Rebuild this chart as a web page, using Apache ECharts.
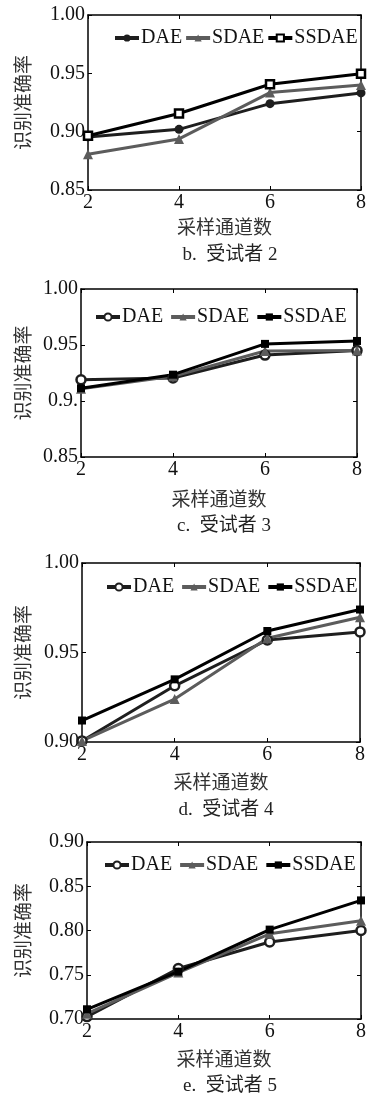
<!DOCTYPE html>
<html><head><meta charset="utf-8">
<script src="https://cdn.jsdelivr.net/npm/echarts@6/dist/echarts.min.js"></script>
<style>html,body{margin:0;padding:0;background:#fff}#c{width:369px;height:1098px}</style>
</head><body><div id="c"></div>
<script>
const channels = [2, 4, 6, 8];
const seriesNames = ['DAE', 'SDAE', 'SSDAE'];
const captions = ['b.  受试者 2', 'c.  受试者 3', 'd.  受试者 4', 'e.  受试者 5'];
const xTitle = '采样通道数';
const yTitle = '识别准确率';

// subject 2
const dae2 = [0.8955, 0.9020, 0.9240, 0.9332];
const sdae2 = [0.8807, 0.8938, 0.9335, 0.9400];
const ssdae2 = [0.8965, 0.9156, 0.9406, 0.9497];
// subject 3
const dae3 = [0.9190, 0.9205, 0.9410, 0.9450];
const sdae3 = [0.9110, 0.9220, 0.9446, 0.9450];
const ssdae3 = [0.9114, 0.9235, 0.9510, 0.9536];
// subject 4
const dae4 = [0.9006, 0.9314, 0.9570, 0.9615];
const sdae4 = [0.9006, 0.9240, 0.9580, 0.9697];
const ssdae4 = [0.9120, 0.9350, 0.9620, 0.9740];
// subject 5
const dae5 = [0.7027, 0.7570, 0.7870, 0.8000];
const sdae5 = [0.7060, 0.7525, 0.7963, 0.8110];
const ssdae5 = [0.7110, 0.7535, 0.8010, 0.8340];

const yTicks2 = ['0.85', '0.90', '0.95', '1.00'];
const yTicks3 = ['0.85', '0.9.', '0.95', '1.00'];
const yTicks4 = ['0.90', '0.95', '1.00'];
const yTicks5 = ['0.70', '0.75', '0.80', '0.85', '0.90'];

const panels = [
  {data: [dae2, sdae2, ssdae2], ticks: yTicks2, min: 0.85, max: 1.00, grid: {left: 88, top: 15, width: 274, height: 175}, legend: {left: 108, top: 23}, gap: 2, filledCircle: true, hollowSquare: true, ynameGap: 56, xnameGap: 27, cap: 252},
  {data: [dae3, sdae3, ssdae3], ticks: yTicks3, min: 0.85, max: 1.00, grid: {left: 81, top: 289, width: 276, height: 168}, legend: {left: 89, top: 302}, gap: 6, filledCircle: false, hollowSquare: false, ynameGap: 49, xnameGap: 32, cap: 523},
  {data: [dae4, sdae4, ssdae4], ticks: yTicks4, min: 0.90, max: 1.00, grid: {left: 82, top: 563, width: 278, height: 179}, legend: {left: 100, top: 572}, gap: 6, filledCircle: false, hollowSquare: false, ynameGap: 50, xnameGap: 30, cap: 807},
  {data: [dae5, sdae5, ssdae5], ticks: yTicks5, min: 0.70, max: 0.90, grid: {left: 87, top: 842, width: 276, height: 177}, legend: {left: 98, top: 850}, gap: 6, filledCircle: false, hollowSquare: false, ynameGap: 55, xnameGap: 30, cap: 1083}
];

const serif = "'Liberation Serif', 'Times New Roman', 'Noto Sans CJK SC', serif";
const cjk = "'Noto Sans CJK SC', sans-serif";
const axisLine = {show: true, lineStyle: {color: '#000', width: 1.5}};
const tick = {show: true, inside: true, length: 4, lineStyle: {color: '#000', width: 1}};
const colors = ['#1e1e1e', '#5c5c5c', '#000000'];

const option = {
  animation: false,
  backgroundColor: '#fff',
  grid: [], xAxis: [], yAxis: [], series: [], legend: [], title: []
};

panels.forEach((p, i) => {
  option.grid.push(Object.assign({containLabel: false}, p.grid));
  const ctr = p.grid.left + p.grid.width / 2;
  option.xAxis.push({
    type: 'value', gridIndex: i, min: 2, max: 8, interval: 2, position: 'bottom',
    axisLine, axisTick: tick, splitLine: {show: false},
    axisLabel: {fontFamily: serif, fontSize: 20, color: '#111', margin: 3},
    name: xTitle, nameLocation: 'middle', nameGap: p.xnameGap,
    nameTextStyle: {fontFamily: cjk, fontSize: 19, color: '#333'}
  });
  option.xAxis.push({
    type: 'value', gridIndex: i, min: 2, max: 8, interval: 2, position: 'top',
    axisLine, axisTick: tick, axisLabel: {show: false}, splitLine: {show: false}
  });
  const interval = 0.05;
  option.yAxis.push({
    type: 'value', gridIndex: i, min: p.min, max: p.max, interval: interval, position: 'left',
    axisLine, axisTick: tick, splitLine: {show: false},
    axisLabel: {fontFamily: serif, fontSize: 20, color: '#111', margin: 3,
      formatter: v => p.ticks[Math.round((v - p.min) / interval)] || ''},
    name: yTitle, nameLocation: 'middle', nameGap: p.ynameGap, nameRotate: 90,
    nameTextStyle: {fontFamily: cjk, fontSize: 19, color: '#333'}
  });
  option.yAxis.push({
    type: 'value', gridIndex: i, min: p.min, max: p.max, interval: interval, position: 'right',
    axisLine, axisTick: tick, axisLabel: {show: false}, splitLine: {show: false}
  });
  const syms = [
    p.filledCircle ? {symbol: 'circle', symbolSize: 9, itemStyle: {color: colors[0]}} :
      {symbol: 'circle', symbolSize: 9, itemStyle: {color: '#fff', borderColor: colors[0], borderWidth: 2.5}},
    {symbol: 'triangle', symbolSize: 10, itemStyle: {color: colors[1]}},
    p.hollowSquare ? {symbol: 'rect', symbolSize: 8, itemStyle: {color: '#fff', borderColor: colors[2], borderWidth: 2.5}} :
      {symbol: 'rect', symbolSize: 8, itemStyle: {color: colors[2]}}
  ];
  const names = seriesNames.map(n => n + '|' + i);
  p.data.forEach((arr, k) => {
    option.series.push(Object.assign({
      type: 'line', name: names[k], xAxisIndex: 2 * i, yAxisIndex: 2 * i,
      data: channels.map((c, j) => [c, arr[j]]),
      showAllSymbol: true,
      lineStyle: {color: colors[k], width: 3}
    }, syms[k]));
  });
  option.legend.push({
    data: names, left: p.legend.left, top: p.legend.top, orient: 'horizontal',
    itemWidth: 24, itemHeight: 9, itemGap: p.gap, selectedMode: false,
    formatter: n => n.split('|')[0],
    lineStyle: {width: 4},
    textStyle: {fontFamily: serif, fontSize: 20, color: '#111', padding: [0, 0, 0, -3]}
  });
  option.title.push({
    text: captions[i], left: ctr, top: p.cap - 11, textAlign: 'center',
    textStyle: {fontFamily: serif, fontSize: 19, fontWeight: 'normal', color: '#222'}
  });
});

const chart = echarts.init(document.getElementById('c'), null, {renderer: 'canvas'});
chart.setOption(option);
</script></body></html>
